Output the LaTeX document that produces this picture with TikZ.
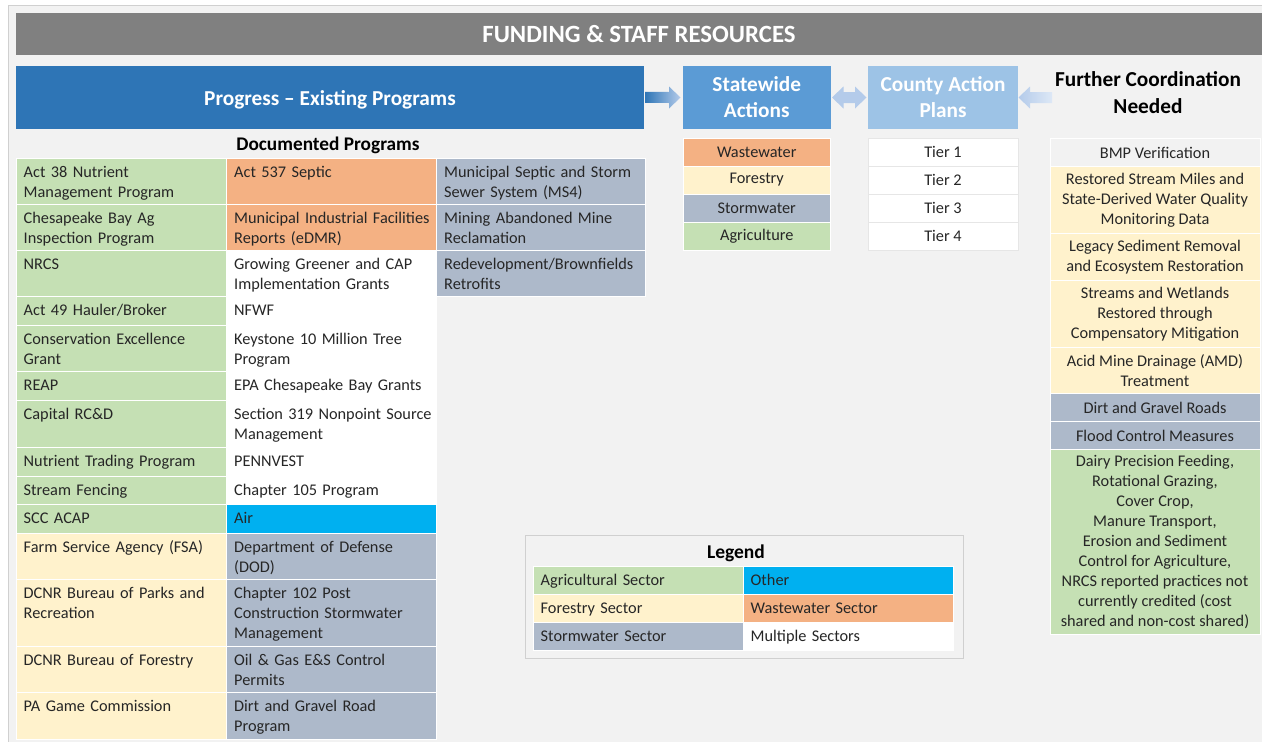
\documentclass[tikz,border=0pt]{standalone}
\usepackage{fontspec}
\setmainfont{Carlito}
\usetikzlibrary{calc}
\definecolor{bg}{HTML}{F2F2F2}
\definecolor{framec}{HTML}{D0D0D0}
\definecolor{hdr}{HTML}{808080}
\definecolor{progc}{HTML}{2E75B6}
\definecolor{swac}{HTML}{5B9BD5}
\definecolor{capc}{HTML}{9DC3E6}
\definecolor{ag}{HTML}{C5E0B4}
\definecolor{fo}{HTML}{FFF2CC}
\definecolor{sw}{HTML}{ADB9CA}
\definecolor{ww}{HTML}{F4B183}
\definecolor{ot}{HTML}{00B0F0}
\definecolor{txt}{HTML}{262626}
\definecolor{arlight}{HTML}{B4CBEA}
\definecolor{armid}{HTML}{5A8FD2}
\definecolor{arpale}{HTML}{DDE8F6}
\definecolor{tierline}{HTML}{E6E6E6}
\tikzset{
 cellbox/.style={anchor=north west, inner sep=0pt, outer sep=0pt, draw=white, line width=1pt},
 ctext/.style={anchor=base west, inner sep=0pt, align=left, text width=205pt, font=\fontsize{16.3}{20}\selectfont, text=txt},
 ccell/.style={anchor=north west, inner sep=0pt, outer sep=0pt, draw=white, line width=1pt, align=center, font=\fontsize{16.3}{20}\selectfont, text=txt},
 hbox/.style={anchor=north west, inner sep=0pt, outer sep=0pt, align=center, text=white, font=\fontsize{21.3}{26}\selectfont\bfseries},
}
\newcommand\pc[7]{%
 \node[cellbox, fill=#6, minimum width=#4pt, minimum height=#5pt] (#1) at (#2,#3) {};
 \node[ctext] (#1t) at ([xshift=7.5pt,yshift=-19pt]#1.north west) {#7};}
\newcommand\cc[7]{%
 \node[ccell, fill=#6, minimum width=#4pt, minimum height=#5pt] (#1) at (#2,#3) {#7};}
\begin{document}
\begin{tikzpicture}[x=1pt,y=-1pt]
\useasboundingbox (0,0) rectangle (1262,742);
\fill[white] (0,0) rectangle (1262,742);
\filldraw[fill=bg, draw=framec, line width=1pt] (8,5.5) rectangle (1275,752);
% header
\node[hbox, fill=hdr, minimum width=1260pt, minimum height=42.5pt, text=white] (hdr) at (16,12.5) {};
\node[text=white, font=\fontsize{24.8}{26}\selectfont\bfseries, inner sep=0pt] (hdrt) at (639,34) {FUNDING \& STAFF RESOURCES};
% top boxes
\node[hbox, fill=progc, minimum width=628pt, minimum height=62.5pt] (prog) at (16,66) {\rule{0pt}{19.5pt}Progress -- Existing Programs};
\node[hbox, fill=swac, minimum width=147.5pt, minimum height=63pt] (swa) at (683,66) {Statewide\\Actions};
\node[hbox, fill=capc, minimum width=150pt, minimum height=63pt] (cap) at (868,66) {County Action\\Plans};
\node[inner sep=0pt, align=center, text=black, font=\fontsize{21.3}{27}\selectfont\bfseries] (fc) at (1148,92.5) {Further Coordination\\Needed};
\coordinate (fcend) at (1052,97.5);
% arrows
\shade[left color=progc, right color=arlight]
 ($(prog.east)+(1,-5.5)$) -- ($(swa.west)+(-14,-5.5)$) -- ($(swa.west)+(-14,-11)$) -- ($(swa.west)+(-2.5,0)$)
 -- ($(swa.west)+(-14,11)$) -- ($(swa.west)+(-14,5.5)$) -- ($(prog.east)+(1,5.5)$) -- cycle;
\shade[left color=arlight, middle color=armid, right color=arlight]
 ($(swa.east)+(1.5,0)$) -- ($(swa.east)+(13,-11)$) -- ($(swa.east)+(13,-5.5)$) -- ($(cap.west)+(-13,-5.5)$)
 -- ($(cap.west)+(-13,-11)$) -- ($(cap.west)+(-1.5,0)$) -- ($(cap.west)+(-13,11)$) -- ($(cap.west)+(-13,5.5)$)
 -- ($(swa.east)+(13,5.5)$) -- ($(swa.east)+(13,11)$) -- cycle;
\shade[left color=arlight, right color=arpale]
 ($(cap.east)+(0.5,0)$) -- ($(cap.east)+(12,-11)$) -- ($(cap.east)+(12,-5.5)$) -- ($(fcend)+(0,-5.5)$)
 -- ($(fcend)+(0,5.5)$) -- ($(cap.east)+(12,5.5)$) -- ($(cap.east)+(12,11)$) -- cycle;
% statewide sectors
\cc{s1}{683}{138}{147.5}{28}{ww}{Wastewater}
\cc{s2}{683}{166}{147.5}{28}{fo}{Forestry}
\cc{s3}{683}{194}{147.5}{28}{sw}{Stormwater}
\cc{s4}{683}{222}{147.5}{28}{ag}{Agriculture}
% tiers
\node[ccell, fill=white, draw=tierline, minimum width=150pt, minimum height=28pt] (t1) at (868,138) {Tier 1};
\node[ccell, fill=white, draw=tierline, minimum width=150pt, minimum height=28pt] (t2) at (868,166) {Tier 2};
\node[ccell, fill=white, draw=tierline, minimum width=150pt, minimum height=28pt] (t3) at (868,194) {Tier 3};
\node[ccell, fill=white, draw=tierline, minimum width=150pt, minimum height=28pt] (t4) at (868,222) {Tier 4};
% documented programs
\node[inner sep=0pt, text=black, font=\fontsize{19.3}{20}\selectfont\bfseries, anchor=base] (doc) at (328,150.5) {Documented Programs};
% column 1
\pc{a1}{16}{158}{210.5}{46}{ag}{Act 38 Nutrient\\Management Program}
\pc{a2}{16}{204}{210.5}{46}{ag}{Chesapeake Bay Ag\\Inspection Program}
\pc{a3}{16}{250}{210.5}{46.5}{ag}{NRCS}
\pc{a4}{16}{296.5}{210.5}{29}{ag}{Act 49 Hauler/Broker}
\pc{a5}{16}{325.5}{210.5}{46}{ag}{Conservation Excellence\\Grant}
\pc{a6}{16}{371.5}{210.5}{29}{ag}{REAP}
\pc{a7}{16}{400.5}{210.5}{47}{ag}{Capital RC\&D}
\pc{a8}{16}{447.5}{210.5}{28.5}{ag}{Nutrient Trading Program}
\pc{a9}{16}{476}{210.5}{28.5}{ag}{Stream Fencing}
\pc{a10}{16}{504.5}{210.5}{28.5}{ag}{SCC ACAP}
\pc{a11}{16}{533}{210.5}{46.5}{fo}{Farm Service Agency (FSA)}
\pc{a12}{16}{579.5}{210.5}{66.5}{fo}{DCNR Bureau of Parks and\\Recreation}
\pc{a13}{16}{646}{210.5}{46.5}{fo}{DCNR Bureau of Forestry}
\pc{a14}{16}{692.5}{210.5}{46.5}{fo}{PA Game Commission}
% column 2
\pc{b1}{226.5}{158}{210}{46}{ww}{Act 537 Septic}
\pc{b2}{226.5}{204}{210}{46}{ww}{Municipal Industrial Facilities\\Reports (eDMR)}
\pc{b3}{226.5}{250}{210}{46.5}{white}{Growing Greener and CAP\\Implementation Grants}
\pc{b4}{226.5}{296.5}{210}{29}{white}{NFWF}
\pc{b5}{226.5}{325.5}{210}{46}{white}{Keystone 10 Million Tree\\Program}
\pc{b6}{226.5}{371.5}{210}{29}{white}{EPA Chesapeake Bay Grants}
\pc{b7}{226.5}{400.5}{210}{47}{white}{Section 319 Nonpoint Source\\Management}
\pc{b8}{226.5}{447.5}{210}{28.5}{white}{PENNVEST}
\pc{b9}{226.5}{476}{210}{28.5}{white}{Chapter 105 Program}
\pc{b10}{226.5}{504.5}{210}{28.5}{ot}{Air}
\pc{b11}{226.5}{533}{210}{46.5}{sw}{Department of Defense\\(DOD)}
\pc{b12}{226.5}{579.5}{210}{66.5}{sw}{Chapter 102 Post\\Construction Stormwater\\Management}
\pc{b13}{226.5}{646}{210}{46.5}{sw}{Oil \& Gas E\&S Control\\Permits}
\pc{b14}{226.5}{692.5}{210}{46.5}{sw}{Dirt and Gravel Road\\Program}
% column 3
\pc{c1}{436.5}{158}{209}{46}{sw}{Municipal Septic and Storm\\Sewer System (MS4)}
\pc{c2}{436.5}{204}{209}{46}{sw}{Mining Abandoned Mine\\Reclamation}
\pc{c3}{436.5}{250}{209}{46.5}{sw}{Redevelopment/Brownfields\\Retrofits}
% right column
\cc{r1}{1050}{138.5}{210}{28}{bg}{BMP Verification}
\cc{r2}{1050}{166.5}{210}{67}{fo}{Restored Stream Miles and\\State-Derived Water Quality\\Monitoring Data}
\cc{r3}{1050}{233.5}{210}{47}{fo}{Legacy Sediment Removal\\and Ecosystem Restoration}
\cc{r4}{1050}{280.5}{210}{67}{fo}{Streams and Wetlands\\Restored through\\Compensatory Mitigation}
\cc{r5}{1050}{347.5}{210}{46}{fo}{Acid Mine Drainage (AMD)\\Treatment}
\cc{r6}{1050}{393.5}{210}{28}{sw}{Dirt and Gravel Roads}
\cc{r7}{1050}{421.5}{210}{28}{sw}{Flood Control Measures}
\cc{r8}{1050}{449.5}{210}{185}{ag}{Dairy Precision Feeding,\\Rotational Grazing,\\Cover Crop,\\Manure Transport,\\Erosion and Sediment\\Control for Agriculture,\\NRCS reported practices not\\currently credited (cost\\shared and non-cost shared)}
% legend
\node[anchor=north west, inner sep=0pt, fill=bg, draw=framec, line width=1pt, minimum width=437.5pt, minimum height=123pt] (leg) at (525,535) {};
\node[inner sep=0pt, text=black, font=\fontsize{19.5}{20}\selectfont\bfseries, anchor=base] (legt) at (736,558) {Legend};
\pc{l1}{533}{566}{210}{28}{ag}{Agricultural Sector}
\pc{l2}{743}{566}{210}{28}{ot}{Other}
\pc{l3}{533}{594}{210}{28}{fo}{Forestry Sector}
\pc{l4}{743}{594}{210}{28}{ww}{Wastewater Sector}
\pc{l5}{533}{622}{210}{28}{sw}{Stormwater Sector}
\pc{l6}{743}{622}{210}{28}{white}{Multiple Sectors}
\end{tikzpicture}
\end{document}
